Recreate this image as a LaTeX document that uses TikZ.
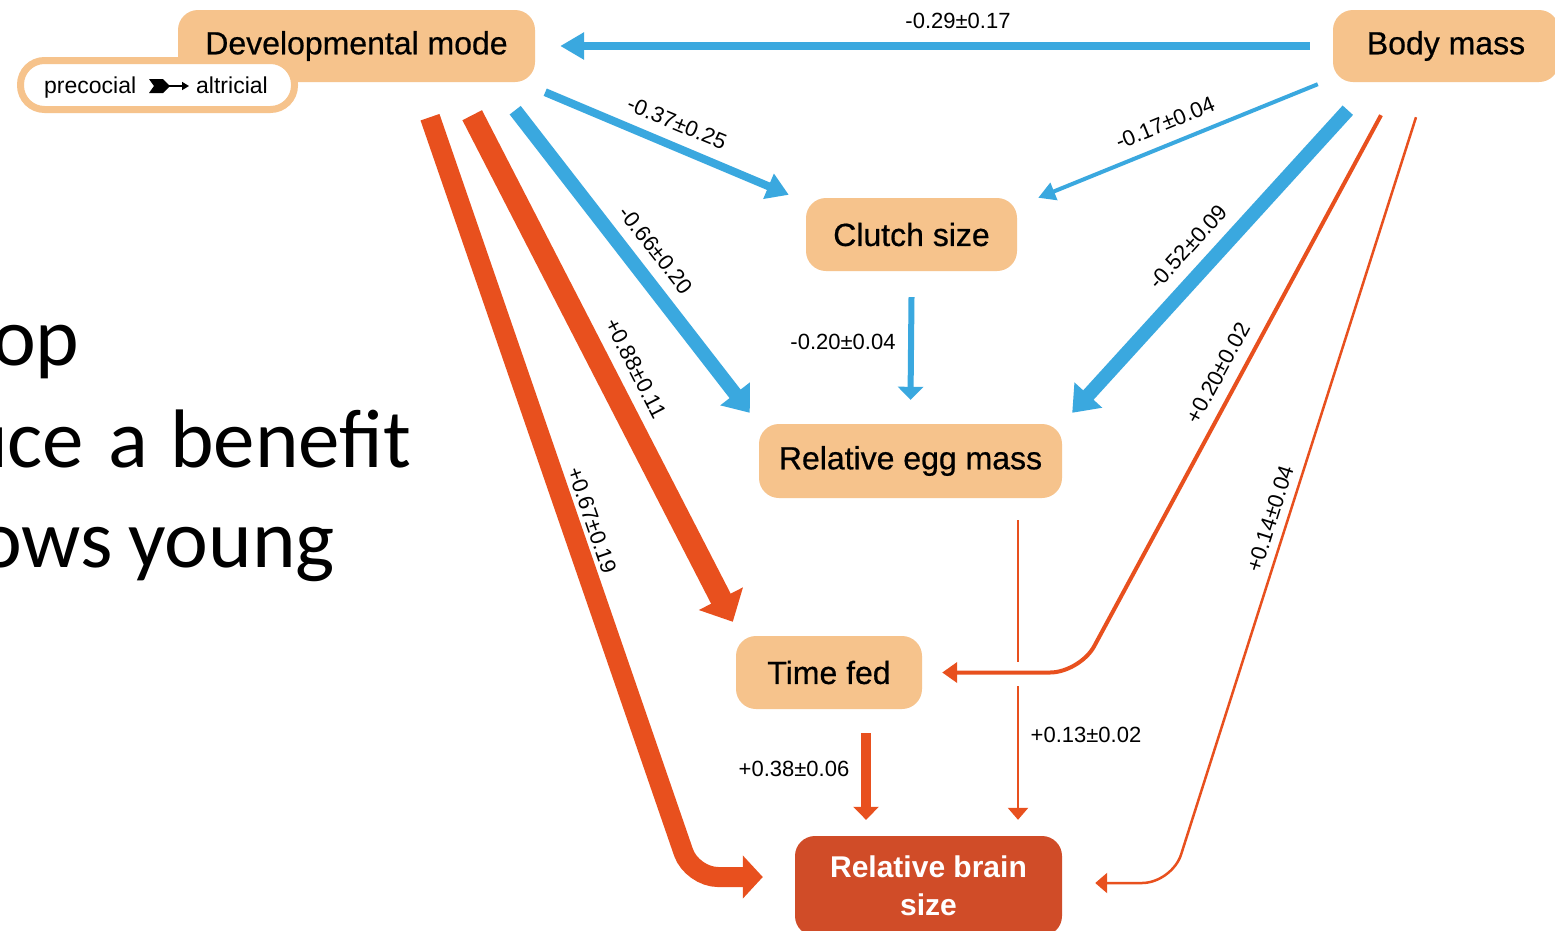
\documentclass[tikz,border=0pt]{standalone}
\usepackage{fontspec}
\setmainfont{Liberation Sans}
\newfontfamily\slidefont{Carlito}
\newfontfamily\nodefont{Liberation Sans}[FakeBold=0.6]
\usetikzlibrary{arrows.meta}
\definecolor{nodefill}{RGB}{246,195,140}
\definecolor{pathblue}{RGB}{58,168,223}
\definecolor{pathred}{RGB}{232,80,30}
\definecolor{brainfill}{RGB}{208,76,40}
\begin{document}
\begin{tikzpicture}[x=1pt,y=-1pt,
  box/.style={fill=nodefill, rounded corners=20pt, inner sep=0pt, font=\nodefont\fontsize{32}{38}\selectfont},
  lab/.style={font=\fontsize{22}{26}\selectfont, inner sep=0pt},
  slide/.style={anchor=base west, inner sep=0pt, font=\slidefont\fontsize{83}{96}\selectfont},
  blueline/.style={draw=pathblue},
  redline/.style={draw=pathred},
]
\useasboundingbox (0,0) rectangle (1555,930);
\clip (0,0) rectangle (1555,930);
\fill[white] (0,0) rectangle (1555,930);

% slide text fragments (justified lines, cut at the left edge)
\node[slide] (s1) at (-8,365) {op};
\node[slide] (s2a) at (-36,467) {uce};
\node[slide] (s2b) at (108,467) {a};
\node[slide] (s2c) at (170,467) {benefit};
\node[slide] (s3a) at (-22,567) {ows};
\node[slide] (s3b) at (128,567) {young};

% nodes
\node[box, minimum width=357pt, minimum height=72pt] (dev) at (356.5,46) {Developmental mode};
\node[box, minimum width=226pt, minimum height=72pt] (body) at (1446,46) {Body mass};
\node[box, minimum width=211pt, minimum height=73pt] (clutch) at (911.5,234.5) {Clutch size};
\node[box, minimum width=303pt, minimum height=74pt] (egg) at (910.5,461) {Relative egg mass};
\node[box, minimum width=186pt, minimum height=73pt] (timefed) at (829,672.5) {Time fed};
\node[box, fill=brainfill, text=white, align=center, minimum width=267pt, minimum height=100pt,
      font=\bfseries\fontsize{30}{38}\selectfont] (brain) at (928.5,886) {Relative brain\\size};

% precocial -> altricial legend
\node[draw=nodefill, line width=7pt, fill=white, rounded corners=24pt, minimum width=274pt,
      minimum height=49pt, inner sep=0pt] (precbox) at (157.5,85) {};
\node[anchor=base west, inner sep=0pt, font=\fontsize{23}{27}\selectfont] (prec) at (44,93) {precocial};
\node[anchor=base west, inner sep=0pt, font=\fontsize{23}{27}\selectfont] (altr) at (196,93) {altricial};
\fill[black] (149,79) -- (163,79) -- (170,86) -- (163,93) -- (149,93) -- (154,86) -- cycle;
\draw[black, line width=1.6pt, -{Triangle[length=7pt,width=8pt]}] (169,86) -- (189,86);

% connectors (blue)
\draw[blueline, line width=8pt, -{Triangle[length=24pt,width=26pt]}]
  ([xshift=-23pt]body.west) -- ([xshift=25pt]dev.east);
\draw[blueline, line width=8pt, -{Triangle[length=22pt,width=26pt]}]
  ([xshift=10pt,yshift=-10pt]dev.south east) -- ([xshift=-17pt,yshift=3pt]clutch.north west);
\draw[blueline, line width=4pt, -{Triangle[length=17pt,width=18pt]}]
  ([xshift=-15pt,yshift=-2pt]body.south west) -- ([xshift=21pt]clutch.north east);
\draw[blueline, line width=14pt, -{Triangle[length=24pt,width=36pt]}]
  ([xshift=-20pt,yshift=-28pt]dev.south east) -- ([xshift=-9pt,yshift=11pt]egg.north west);
\draw[blueline, line width=14pt, -{Triangle[length=24pt,width=36pt]}]
  ([xshift=15pt,yshift=-28pt]body.south west) -- ([xshift=10pt,yshift=11pt]egg.north east);
\draw[blueline, line width=6pt, -{Triangle[length=13pt,width=25pt]}]
  ([yshift=-26pt]clutch.south) -- ([yshift=24pt]egg.north);

% connectors (red)
\draw[redline, line width=22pt, -{Triangle[length=26pt,width=48pt]}]
  ([xshift=-63pt,yshift=-33pt]dev.south east) -- ([xshift=-3pt,yshift=14pt]timefed.north west);
\coordinate (c8) at (692,877);
\draw[redline, line width=20pt, rounded corners=26pt, -{Triangle[length=20pt,width=42pt]}]
  ([xshift=73.5pt,yshift=-35pt]dev.south) -- (c8) -- ([xshift=-32pt,yshift=9pt]brain.west);
\coordinate (x1) at (1018,662);
\coordinate (x2) at (1018,686);
\draw[redline, line width=2.5pt] ([xshift=107.5pt,yshift=-22pt]egg.south) -- (x1);
\draw[redline, line width=2.5pt, -{Triangle[length=12pt,width=20pt]}]
  (x2) -- ([xshift=89.5pt,yshift=16pt]brain.north);
\coordinate (c9) at (1080,672.5);
\draw[redline, line width=4pt, rounded corners=30pt, -{Triangle[length=15pt,width=20pt]}]
  ([xshift=-65pt,yshift=-33pt]body.south) -- (c9) -- ([xshift=20pt]timefed.east);
\draw[redline, line width=10pt, -{Triangle[length=13pt,width=25pt]}]
  ([xshift=37pt,yshift=-24pt]timefed.south) -- ([xshift=-62.5pt,yshift=16pt]brain.north);
\coordinate (c12) at (1172,883);
\draw[redline, line width=2.5pt, rounded corners=30pt, -{Triangle[length=12pt,width=20pt]}]
  ([xshift=-30pt,yshift=-35pt]body.south) -- (c12) -- ([xshift=33pt,yshift=3pt]brain.east);

% labels
\node[lab] (l1) at (958,21) {-0.29±0.17};
\node[lab, rotate=-22.5] (l2) at (677,123) {-0.37±0.25};
\node[lab, rotate=22.3] (l3) at (1165,123) {-0.17±0.04};
\node[lab, rotate=-52] (l4) at (656,250) {-0.66±0.20};
\node[lab, rotate=47.8] (l5) at (1188,247) {-0.52±0.09};
\node[lab] (l6) at (843,342) {-0.20±0.04};
\node[lab, rotate=-62.8] (l7) at (636,368) {+0.88±0.11};
\node[lab, rotate=-71] (l8) at (592,520) {+0.67±0.19};
\node[lab, rotate=61.7] (l9) at (1218,373) {+0.20±0.02};
\node[lab] (l10) at (1086,735) {+0.13±0.02};
\node[lab] (l11) at (794,769) {+0.38±0.06};
\node[lab, rotate=72.3] (l12) at (1270,519) {+0.14±0.04};
\end{tikzpicture}
\end{document}
